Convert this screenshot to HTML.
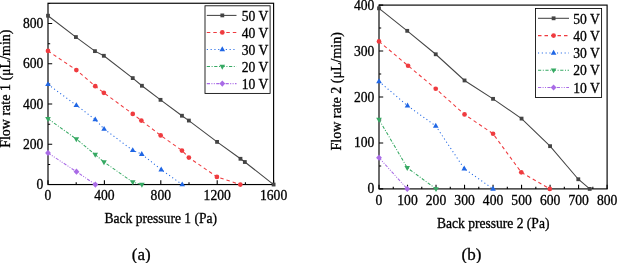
<!DOCTYPE html>
<html><head><meta charset="utf-8"><style>
html,body{margin:0;padding:0;background:#fff;width:617px;height:263px;overflow:hidden}
svg{display:block;will-change:transform}
text{font-family:"Liberation Serif",serif;font-size:13.6px;fill:#000;stroke:#000;stroke-width:0.3px}
</style></head><body>
<svg width="617" height="263" viewBox="0 0 617 263">
<rect x="48.0" y="3.25" width="225.60" height="181.30" fill="none" stroke="#000" stroke-width="1.15"/>
<path d="M48.00 184.55V180.35M104.40 184.55V180.35M160.80 184.55V180.35M217.20 184.55V180.35M273.60 184.55V180.35M76.20 184.55V182.35M132.60 184.55V182.35M189.00 184.55V182.35M245.40 184.55V182.35M48.0 184.55H52.20M48.0 144.31H52.20M48.0 104.06H52.20M48.0 63.82H52.20M48.0 23.57H52.20M48.0 164.43H50.20M48.0 124.18H50.20M48.0 83.94H50.20M48.0 43.69H50.20M48.0 3.45H50.20" stroke="#000" stroke-width="1.1" fill="none"/>
<text x="48.00" y="199.8" text-anchor="middle">0</text>
<text x="104.40" y="199.8" text-anchor="middle">400</text>
<text x="160.80" y="199.8" text-anchor="middle">800</text>
<text x="217.20" y="199.8" text-anchor="middle">1200</text>
<text x="273.60" y="199.8" text-anchor="middle">1600</text>
<text x="43.3" y="189.05" text-anchor="end">0</text>
<text x="43.3" y="148.81" text-anchor="end">200</text>
<text x="43.3" y="108.56" text-anchor="end">400</text>
<text x="43.3" y="68.32" text-anchor="end">600</text>
<text x="43.3" y="28.07" text-anchor="end">800</text>
<path d="M48.00 152.96L76.48 171.67L95.38 184.55" fill="none" stroke="#a96be6" stroke-width="1.05" stroke-dasharray="3.2 1.4 1 1.4 1 1.4"/>
<path d="M48.00 118.75L76.34 139.07L95.24 154.57L103.98 162.01L132.74 182.14L141.91 184.55" fill="none" stroke="#36a963" stroke-width="1.05" stroke-dasharray="3.2 1.6 1 1.6"/>
<path d="M48.00 84.34L76.34 105.27L95.24 119.56L104.12 129.01L132.74 150.34L141.77 154.17L161.22 169.66L182.23 184.55" fill="none" stroke="#1f66e5" stroke-width="1.05" stroke-dasharray="1.1 2.7"/>
<path d="M48.00 50.94L76.34 70.05L95.24 86.15L103.84 92.79L132.74 113.92L141.34 120.56L160.66 135.45L181.95 150.54L188.86 157.59L216.92 176.90L240.32 184.55" fill="none" stroke="#ef3b3f" stroke-width="1.05" stroke-dasharray="3.5 3"/>
<path d="M48.00 15.72L75.92 37.05L94.95 51.14L103.84 55.77L132.74 78.10L141.91 85.75L160.52 99.84L181.95 115.73L188.86 120.56L217.06 141.89L240.47 158.79L244.84 162.01L273.60 184.55" fill="none" stroke="#444" stroke-width="1.05"/>
<path d="M48.00 149.86L50.90 152.96L48.00 156.06L45.10 152.96Z" fill="#a96be6"/>
<path d="M76.48 168.57L79.38 171.67L76.48 174.77L73.58 171.67Z" fill="#a96be6"/>
<path d="M95.38 181.45L98.28 184.55L95.38 187.65L92.48 184.55Z" fill="#a96be6"/>
<path d="M48.00 121.89L50.80 116.99L45.20 116.99Z" fill="#36a963"/>
<path d="M76.34 142.21L79.14 137.31L73.54 137.31Z" fill="#36a963"/>
<path d="M95.24 157.70L98.04 152.80L92.44 152.80Z" fill="#36a963"/>
<path d="M103.98 165.15L106.78 160.25L101.18 160.25Z" fill="#36a963"/>
<path d="M132.74 185.27L135.54 180.37L129.94 180.37Z" fill="#36a963"/>
<path d="M141.91 187.69L144.71 182.79L139.11 182.79Z" fill="#36a963"/>
<path d="M48.00 81.21L50.80 86.11L45.20 86.11Z" fill="#1f66e5"/>
<path d="M76.34 102.13L79.14 107.03L73.54 107.03Z" fill="#1f66e5"/>
<path d="M95.24 116.42L98.04 121.32L92.44 121.32Z" fill="#1f66e5"/>
<path d="M104.12 125.88L106.92 130.78L101.32 130.78Z" fill="#1f66e5"/>
<path d="M132.74 147.21L135.54 152.11L129.94 152.11Z" fill="#1f66e5"/>
<path d="M141.77 151.03L144.57 155.93L138.97 155.93Z" fill="#1f66e5"/>
<path d="M161.22 166.52L164.02 171.42L158.42 171.42Z" fill="#1f66e5"/>
<path d="M182.23 181.41L185.03 186.31L179.43 186.31Z" fill="#1f66e5"/>
<circle cx="48.00" cy="50.94" r="2.35" fill="#ef3b3f"/>
<circle cx="76.34" cy="70.05" r="2.35" fill="#ef3b3f"/>
<circle cx="95.24" cy="86.15" r="2.35" fill="#ef3b3f"/>
<circle cx="103.84" cy="92.79" r="2.35" fill="#ef3b3f"/>
<circle cx="132.74" cy="113.92" r="2.35" fill="#ef3b3f"/>
<circle cx="141.34" cy="120.56" r="2.35" fill="#ef3b3f"/>
<circle cx="160.66" cy="135.45" r="2.35" fill="#ef3b3f"/>
<circle cx="181.95" cy="150.54" r="2.35" fill="#ef3b3f"/>
<circle cx="188.86" cy="157.59" r="2.35" fill="#ef3b3f"/>
<circle cx="216.92" cy="176.90" r="2.35" fill="#ef3b3f"/>
<circle cx="240.32" cy="184.55" r="2.35" fill="#ef3b3f"/>
<rect x="46.10" y="13.82" width="3.8" height="3.8" fill="#444"/>
<rect x="74.02" y="35.15" width="3.8" height="3.8" fill="#444"/>
<rect x="93.05" y="49.24" width="3.8" height="3.8" fill="#444"/>
<rect x="101.94" y="53.87" width="3.8" height="3.8" fill="#444"/>
<rect x="130.84" y="76.20" width="3.8" height="3.8" fill="#444"/>
<rect x="140.01" y="83.85" width="3.8" height="3.8" fill="#444"/>
<rect x="158.62" y="97.94" width="3.8" height="3.8" fill="#444"/>
<rect x="180.05" y="113.83" width="3.8" height="3.8" fill="#444"/>
<rect x="186.96" y="118.66" width="3.8" height="3.8" fill="#444"/>
<rect x="215.16" y="139.99" width="3.8" height="3.8" fill="#444"/>
<rect x="238.57" y="156.89" width="3.8" height="3.8" fill="#444"/>
<rect x="242.94" y="160.11" width="3.8" height="3.8" fill="#444"/>
<rect x="271.70" y="182.65" width="3.8" height="3.8" fill="#444"/>
<rect x="205.0" y="5.8" width="65.1" height="87.6" fill="#fff" stroke="#000" stroke-width="0.85"/>
<path d="M206.8 15.40H236.5" stroke="#444" stroke-width="1.05"/>
<rect x="220.40" y="13.50" width="3.8" height="3.8" fill="#444"/>
<text x="241.7" y="21.10">50 V</text>
<path d="M206.8 32.45H236.5" stroke="#ef3b3f" stroke-width="1.05" stroke-dasharray="3.5 3"/>
<circle cx="222.30" cy="32.45" r="2.35" fill="#ef3b3f"/>
<text x="241.7" y="38.15">40 V</text>
<path d="M206.8 49.50H236.5" stroke="#1f66e5" stroke-width="1.05" stroke-dasharray="1.1 2.7"/>
<path d="M222.30 46.36L225.10 51.26L219.50 51.26Z" fill="#1f66e5"/>
<text x="241.7" y="55.20">30 V</text>
<path d="M206.8 66.55H236.5" stroke="#36a963" stroke-width="1.05" stroke-dasharray="3.2 1.6 1 1.6"/>
<path d="M222.30 69.69L225.10 64.79L219.50 64.79Z" fill="#36a963"/>
<text x="241.7" y="72.25">20 V</text>
<path d="M206.8 83.60H236.5" stroke="#a96be6" stroke-width="1.05" stroke-dasharray="3.2 1.4 1 1.4 1 1.4"/>
<path d="M222.30 80.50L225.20 83.60L222.30 86.70L219.40 83.60Z" fill="#a96be6"/>
<text x="241.7" y="89.30">10 V</text>
<rect x="379.0" y="5.1" width="228.10" height="183.80" fill="none" stroke="#000" stroke-width="1.15"/>
<path d="M379.00 188.9V184.70M407.51 188.9V184.70M436.02 188.9V184.70M464.54 188.9V184.70M493.05 188.9V184.70M521.56 188.9V184.70M550.08 188.9V184.70M578.59 188.9V184.70M607.10 188.9V184.70M393.26 188.9V186.70M421.77 188.9V186.70M450.28 188.9V186.70M478.79 188.9V186.70M507.31 188.9V186.70M535.82 188.9V186.70M564.33 188.9V186.70M592.84 188.9V186.70M379.0 188.90H383.20M379.0 142.95H383.20M379.0 97.00H383.20M379.0 51.05H383.20M379.0 5.10H383.20M379.0 165.93H381.20M379.0 119.98H381.20M379.0 74.03H381.20M379.0 28.07H381.20" stroke="#000" stroke-width="1.1" fill="none"/>
<text x="379.00" y="205.2" text-anchor="middle">0</text>
<text x="407.51" y="205.2" text-anchor="middle">100</text>
<text x="436.02" y="205.2" text-anchor="middle">200</text>
<text x="464.54" y="205.2" text-anchor="middle">300</text>
<text x="493.05" y="205.2" text-anchor="middle">400</text>
<text x="521.56" y="205.2" text-anchor="middle">500</text>
<text x="550.08" y="205.2" text-anchor="middle">600</text>
<text x="578.59" y="205.2" text-anchor="middle">700</text>
<text x="607.10" y="205.2" text-anchor="middle">800</text>
<text x="374.3" y="193.40" text-anchor="end">0</text>
<text x="374.3" y="147.45" text-anchor="end">100</text>
<text x="374.3" y="101.50" text-anchor="end">200</text>
<text x="374.3" y="55.55" text-anchor="end">300</text>
<text x="374.3" y="9.60" text-anchor="end">400</text>
<path d="M379.00 157.65L407.23 188.90" fill="none" stroke="#a96be6" stroke-width="1.05" stroke-dasharray="3.2 1.4 1 1.4 1 1.4"/>
<path d="M379.00 119.52L407.23 167.76L436.02 188.90" fill="none" stroke="#36a963" stroke-width="1.05" stroke-dasharray="3.2 1.6 1 1.6"/>
<path d="M379.00 81.38L407.51 105.73L435.74 125.95L464.25 168.68L493.05 188.90" fill="none" stroke="#1f66e5" stroke-width="1.05" stroke-dasharray="1.1 2.7"/>
<path d="M379.00 41.40L408.08 65.75L435.74 88.73L464.54 114.46L493.05 133.76L521.28 172.36L549.79 188.90" fill="none" stroke="#ef3b3f" stroke-width="1.05" stroke-dasharray="3.5 3"/>
<path d="M379.00 8.32L407.23 30.83L435.74 54.27L464.54 80.46L493.05 98.84L521.56 118.60L550.08 146.17L578.30 179.25L589.71 188.90" fill="none" stroke="#444" stroke-width="1.05"/>
<path d="M379.00 154.55L381.90 157.65L379.00 160.75L376.10 157.65Z" fill="#a96be6"/>
<path d="M407.23 185.80L410.13 188.90L407.23 192.00L404.33 188.90Z" fill="#a96be6"/>
<path d="M379.00 122.65L381.80 117.75L376.20 117.75Z" fill="#36a963"/>
<path d="M407.23 170.90L410.03 166.00L404.43 166.00Z" fill="#36a963"/>
<path d="M436.02 192.04L438.82 187.14L433.22 187.14Z" fill="#36a963"/>
<path d="M379.00 78.24L381.80 83.14L376.20 83.14Z" fill="#1f66e5"/>
<path d="M407.51 102.59L410.31 107.49L404.71 107.49Z" fill="#1f66e5"/>
<path d="M435.74 122.81L438.54 127.71L432.94 127.71Z" fill="#1f66e5"/>
<path d="M464.25 165.55L467.05 170.45L461.45 170.45Z" fill="#1f66e5"/>
<path d="M493.05 185.76L495.85 190.66L490.25 190.66Z" fill="#1f66e5"/>
<circle cx="379.00" cy="41.40" r="2.35" fill="#ef3b3f"/>
<circle cx="408.08" cy="65.75" r="2.35" fill="#ef3b3f"/>
<circle cx="435.74" cy="88.73" r="2.35" fill="#ef3b3f"/>
<circle cx="464.54" cy="114.46" r="2.35" fill="#ef3b3f"/>
<circle cx="493.05" cy="133.76" r="2.35" fill="#ef3b3f"/>
<circle cx="521.28" cy="172.36" r="2.35" fill="#ef3b3f"/>
<circle cx="549.79" cy="188.90" r="2.35" fill="#ef3b3f"/>
<rect x="377.10" y="6.42" width="3.8" height="3.8" fill="#444"/>
<rect x="405.33" y="28.93" width="3.8" height="3.8" fill="#444"/>
<rect x="433.84" y="52.37" width="3.8" height="3.8" fill="#444"/>
<rect x="462.64" y="78.56" width="3.8" height="3.8" fill="#444"/>
<rect x="491.15" y="96.94" width="3.8" height="3.8" fill="#444"/>
<rect x="519.66" y="116.70" width="3.8" height="3.8" fill="#444"/>
<rect x="548.18" y="144.27" width="3.8" height="3.8" fill="#444"/>
<rect x="576.40" y="177.35" width="3.8" height="3.8" fill="#444"/>
<rect x="587.81" y="187.00" width="3.8" height="3.8" fill="#444"/>
<rect x="535.5" y="8.55" width="66.1" height="88.95" fill="#fff" stroke="#000" stroke-width="0.85"/>
<path d="M538 18.30H569" stroke="#444" stroke-width="1.05"/>
<rect x="551.70" y="16.40" width="3.8" height="3.8" fill="#444"/>
<text x="573.3" y="23.50">50 V</text>
<path d="M538 35.60H569" stroke="#ef3b3f" stroke-width="1.05" stroke-dasharray="3.5 3"/>
<circle cx="553.60" cy="35.60" r="2.35" fill="#ef3b3f"/>
<text x="573.3" y="40.80">40 V</text>
<path d="M538 52.90H569" stroke="#1f66e5" stroke-width="1.05" stroke-dasharray="1.1 2.7"/>
<path d="M553.60 49.76L556.40 54.66L550.80 54.66Z" fill="#1f66e5"/>
<text x="573.3" y="58.10">30 V</text>
<path d="M538 70.20H569" stroke="#36a963" stroke-width="1.05" stroke-dasharray="3.2 1.6 1 1.6"/>
<path d="M553.60 73.34L556.40 68.44L550.80 68.44Z" fill="#36a963"/>
<text x="573.3" y="75.40">20 V</text>
<path d="M538 87.50H569" stroke="#a96be6" stroke-width="1.05" stroke-dasharray="3.2 1.4 1 1.4 1 1.4"/>
<path d="M553.60 84.40L556.50 87.50L553.60 90.60L550.70 87.50Z" fill="#a96be6"/>
<text x="573.3" y="92.70">10 V</text>
<text x="160.8" y="223.2" text-anchor="middle" style="font-size:13.55px">Back pressure 1 (Pa)</text>
<text x="493.2" y="227.8" text-anchor="middle" style="font-size:13.55px">Back pressure 2 (Pa)</text>
<text transform="translate(9.6 88.7) rotate(-90)" text-anchor="middle" style="font-size:14.0px">Flow rate 1 (μL/min)</text>
<text transform="translate(340.6 91.3) rotate(-90)" text-anchor="middle" style="font-size:14.0px">Flow rate 2 (μL/min)</text>
<text x="141.2" y="259.6" text-anchor="middle" style="font-size:17px">(a)</text>
<text x="471.5" y="259.6" text-anchor="middle" style="font-size:17px">(b)</text>
</svg>
</body></html>
